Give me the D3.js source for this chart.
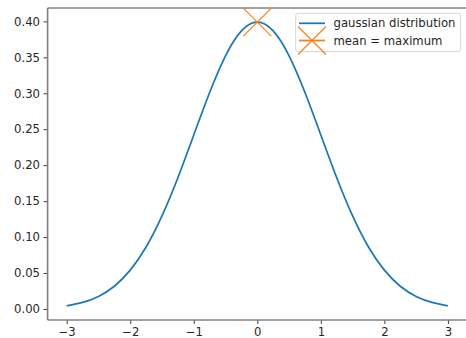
<!DOCTYPE html>
<html>
<head>
<meta charset="utf-8">
<script src="https://cdn.jsdelivr.net/npm/d3@7/dist/d3.min.js"></script>
<style>
  html, body { margin: 0; padding: 0; background: #fff; }
  svg { display: block; font-family: "DejaVu Sans", sans-serif; }
</style>
</head>
<body>
<svg id="chart" width="466" height="338"></svg>
<script>
// Sampled density of the standard normal curve
const xs = [-3, -2.75, -2.5, -2.25, -2, -1.75, -1.5, -1.25, -1, -0.75, -0.5, -0.25,
            0, 0.25, 0.5, 0.75, 1, 1.25, 1.5, 1.75, 2, 2.25, 2.5, 2.75, 3];
const ys = [0.0044, 0.0091, 0.0175, 0.0317, 0.0540, 0.0863, 0.1295, 0.1826, 0.2420, 0.3011, 0.3521, 0.3867,
            0.3989, 0.3867, 0.3521, 0.3011, 0.2420, 0.1826, 0.1295, 0.0863, 0.0540, 0.0317, 0.0175, 0.0091, 0.0044];
const meanPoint = [0, 0.3989];
const xTicks = [-3, -2, -1, 0, 1, 2, 3];
const yTicks = [0.00, 0.05, 0.10, 0.15, 0.20, 0.25, 0.30, 0.35, 0.40];
const seriesNames = ["gaussian distribution", "mean = maximum"];

const blue = "#1f77b4", orange = "#ff7f0e", spine = "#808080";
const fontSize = 11.67;
const svg = d3.select("#chart");

const plotLeft = 47.6, plotRight = 467, plotTop = 8, plotBottom = 320;
const x = d3.scaleLinear().domain([-3.3, 3.3]).range([plotLeft, plotRight]);
const y = d3.scaleLinear().domain([-0.0153, 0.4186]).range([plotBottom, plotTop]);

// Axes
const xAxis = d3.axisBottom(x).tickValues(xTicks).tickSize(4).tickPadding(3.6)
  .tickFormat(d => d3.format("d")(d).replace("-", "\u2212"));
const yAxis = d3.axisLeft(y).tickValues(yTicks).tickSize(4).tickPadding(3.6)
  .tickFormat(d3.format(".2f"));

const gx = svg.append("g").attr("transform", `translate(0,${plotBottom})`).call(xAxis);
const gy = svg.append("g").attr("transform", `translate(${plotLeft},0)`).call(yAxis);
[gx, gy].forEach(g => {
  g.select(".domain").remove();
  g.selectAll(".tick line").attr("stroke", "#262626").attr("stroke-width", 0.9);
  g.selectAll(".tick text").attr("fill", "#262626").attr("font-size", fontSize)
    .attr("font-family", "DejaVu Sans, sans-serif");
});

// Spines: left, top, bottom
svg.append("line").attr("x1", plotLeft).attr("x2", plotLeft).attr("y1", plotTop).attr("y2", plotBottom)
  .attr("stroke", spine).attr("stroke-width", 1.6);
svg.append("line").attr("x1", plotLeft).attr("x2", plotRight).attr("y1", plotTop).attr("y2", plotTop)
  .attr("stroke", spine).attr("stroke-width", 1.6);
svg.append("line").attr("x1", plotLeft).attr("x2", plotRight).attr("y1", plotBottom).attr("y2", plotBottom)
  .attr("stroke", spine).attr("stroke-width", 1.6);

// Curve
const data = xs.map((v, i) => [v, ys[i]]);
const line = d3.line().x(d => x(d[0])).y(d => y(d[1])).curve(d3.curveNatural);
svg.append("path").datum(data).attr("d", line)
  .attr("fill", "none").attr("stroke", blue).attr("stroke-width", 1.75);

// Cross marker
function cross(g, cx, cy, half) {
  g.append("path")
    .attr("d", `M${cx - half},${cy - half}L${cx + half},${cy + half}M${cx - half},${cy + half}L${cx + half},${cy - half}`)
    .attr("stroke", orange).attr("stroke-width", 1.15).attr("fill", "none");
}
cross(svg, x(meanPoint[0]), y(meanPoint[1]), 14);

// Legend
const lg = svg.append("g");
lg.append("rect").attr("x", 295.7).attr("y", 13.3).attr("width", 165).attr("height", 38.4)
  .attr("rx", 2.5).attr("fill", "white").attr("fill-opacity", 0.8)
  .attr("stroke", "#d6d6d6").attr("stroke-width", 1);
lg.append("line").attr("x1", 299).attr("x2", 325).attr("y1", 23.3).attr("y2", 23.3)
  .attr("stroke", blue).attr("stroke-width", 1.75);
lg.append("line").attr("x1", 299).attr("x2", 325).attr("y1", 40.5).attr("y2", 40.5)
  .attr("stroke", orange).attr("stroke-width", 1.75);
cross(lg, 312, 40.5, 14);
lg.selectAll("text.lbl").data(seriesNames).join("text")
  .attr("x", 333.5).attr("y", (d, i) => 23.3 + i * 17.2).attr("dy", "0.35em")
  .attr("font-size", fontSize).attr("fill", "#262626").text(d => d);
</script>
</body>
</html>
